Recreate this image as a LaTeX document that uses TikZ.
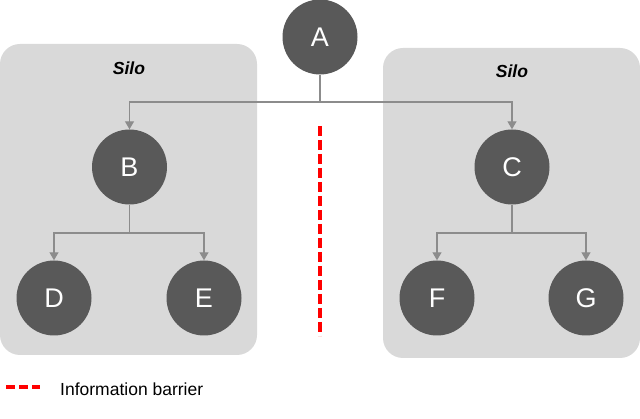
\documentclass[tikz,border=0pt]{standalone}
\usepackage{fontspec}
\setmainfont{Liberation Sans}
\usetikzlibrary{arrows.meta}
\definecolor{nodegray}{HTML}{595959}
\definecolor{silogray}{HTML}{D9D9D9}
\definecolor{linegray}{HTML}{8C8C8C}
\definecolor{barred}{HTML}{FF0000}
\tikzset{
  person/.style={circle, fill=nodegray, draw=none, minimum size=75pt, inner sep=0pt,
    text=white, font=\fontsize{27}{30}\selectfont},
  silo/.style={fill=silogray, draw=none, rounded corners=20pt},
  silolabel/.style={font=\fontsize{17.5}{20}\selectfont\bfseries\itshape, anchor=base, inner sep=0pt},
  conn/.style={draw=linegray, line width=1.2pt, -{Triangle[width=9pt,length=8pt]}},
  plain/.style={draw=linegray, line width=1.2pt},
  barrier/.style={draw=barred, line width=3.5pt, dash pattern=on 10pt off 4pt},
  legendtext/.style={font=\fontsize{17.5}{20}\selectfont, anchor=base west, inner sep=0pt}
}
\begin{document}
\begin{tikzpicture}[x=1pt,y=-1pt]
\useasboundingbox (0,0) rectangle (640,419);
\path[silo] (0,44) rectangle (257,355);
\path[silo] (383,48) rectangle (640,358);
\node[silolabel] (s1) at (129,75) {Silo};
\node[silolabel] (s2) at (512,78) {Silo};

\node[person] (A) at (320,37) {A};
\node[person] (B) at (129.5,167) {B};
\node[person] (C) at (512,167) {C};
\node[person] (D) at (54,298) {D};
\node[person] (E) at (204,298) {E};
\node[person] (F) at (437,298) {F};
\node[person] (G) at (586,298) {G};

\coordinate (jA) at (320,102);
\coordinate (jB) at (129.5,233);
\coordinate (jC) at (512,233);
\draw[plain] (A.south) -- (jA);
\draw[conn] (jA) -| (B.north);
\draw[conn] (jA) -| (C.north);
\draw[plain] (B.south) -- (jB);
\draw[conn] (jB) -| (D.north);
\draw[conn] (jB) -| (E.north);
\draw[plain] (C.south) -- (jC);
\draw[conn] (jC) -| (F.north);
\draw[conn] (jC) -| (G.north);

\coordinate (bar1) at (320,126);
\coordinate (bar2) at (320,336);
\draw[barrier] (bar1) -- (bar2);

\coordinate (leg1) at (6,387);
\coordinate (leg2) at (40,387);
\draw[barrier, dash pattern=on 9pt off 4pt] (leg1) -- (leg2);
\node[legendtext] (legt) at (60,396) {Information barrier};
\end{tikzpicture}
\end{document}
